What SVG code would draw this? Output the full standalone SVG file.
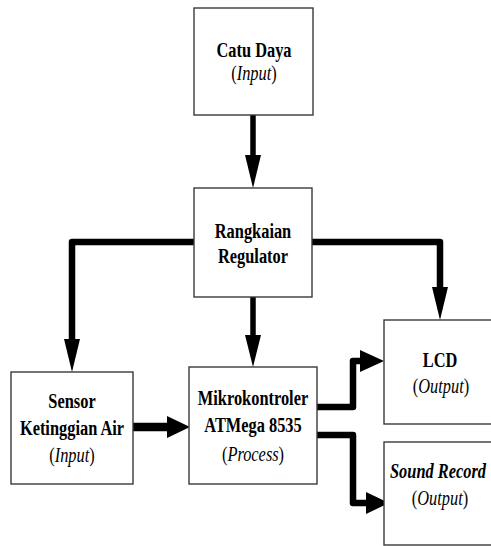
<svg xmlns="http://www.w3.org/2000/svg" width="491" height="546" viewBox="0 0 491 546">
<style>
.box{fill:#fff;stroke:#3a3a3a;stroke-width:1.4}
.t{font-family:"Liberation Serif","Times New Roman",serif;font-size:21px;fill:#000;text-anchor:middle}
.b{font-weight:bold}
.i{font-style:italic}
.w{fill:none;stroke:#000;stroke-linecap:round;stroke-linejoin:round}
.h{fill:#000}
</style>
<rect width="491" height="546" fill="#fff"/>
<g id="connectors">
<path class="w" d="M253,115 V158" stroke-width="5.5"/>
<polygon class="h" points="245,155 261,155 253,188"/>
<path class="w" d="M253,297 V338" stroke-width="5.5"/>
<polygon class="h" points="245,335 261,335 253,367"/>
<path class="w" d="M194,242 H72 V342" stroke-width="6.5"/>
<polygon class="h" points="64,339 80,339 72,372"/>
<path class="w" d="M312,242 H440 V290" stroke-width="6.5"/>
<polygon class="h" points="432,287 448,287 440,320"/>
<path class="w" d="M133,427 H170" stroke-width="8.5"/>
<polygon class="h" points="167,416 167,438 190,427"/>
<path class="w" d="M317,407 H353 V361 H363" stroke-width="6.5"/>
<polygon class="h" points="360,350 360,372 384,361"/>
<path class="w" d="M317,435 H353 V503 H369" stroke-width="6.5"/>
<polygon class="h" points="366,492 366,514 389,503"/>
</g>
<g id="catu">
<rect class="box" x="194" y="8" width="119" height="107"/>
<text class="t b" transform="translate(254,57) scale(0.78,1)">Catu Daya</text>
<text class="t" transform="translate(254,80) scale(0.78,1)">(<tspan class="i">Input</tspan>)</text>
</g>
<g id="regulator">
<rect class="box" x="194" y="188" width="118" height="109"/>
<text class="t b" transform="translate(253,238) scale(0.78,1)">Rangkaian</text>
<text class="t b" transform="translate(253,263) scale(0.78,1)">Regulator</text>
</g>
<g id="sensor">
<rect class="box" x="11" y="372" width="122" height="112"/>
<text class="t b" transform="translate(72,408) scale(0.78,1)">Sensor</text>
<text class="t b" transform="translate(72,435) scale(0.78,1)">Ketinggian Air</text>
<text class="t" transform="translate(72,462) scale(0.78,1)">(<tspan class="i">Input</tspan>)</text>
</g>
<g id="mikro">
<rect class="box" x="189" y="367" width="128" height="117"/>
<text class="t b" transform="translate(253,405) scale(0.78,1)">Mikrokontroler</text>
<text class="t b" transform="translate(253,432) scale(0.78,1)">ATMega 8535</text>
<text class="t" transform="translate(253,461) scale(0.78,1)">(<tspan class="i">Process</tspan>)</text>
</g>
<g id="lcd">
<rect class="box" x="384" y="320" width="120" height="104"/>
<text class="t b" transform="translate(440,367) scale(0.78,1)">LCD</text>
<text class="t" transform="translate(441,393) scale(0.78,1)">(<tspan class="i">Output</tspan>)</text>
</g>
<g id="sound">
<rect class="box" x="384" y="442" width="120" height="103"/>
<text class="t b i" transform="translate(438,478) scale(0.78,1)">Sound Record</text>
<text class="t" transform="translate(440,505) scale(0.78,1)">(<tspan class="i">Output</tspan>)</text>
</g>
</svg>
